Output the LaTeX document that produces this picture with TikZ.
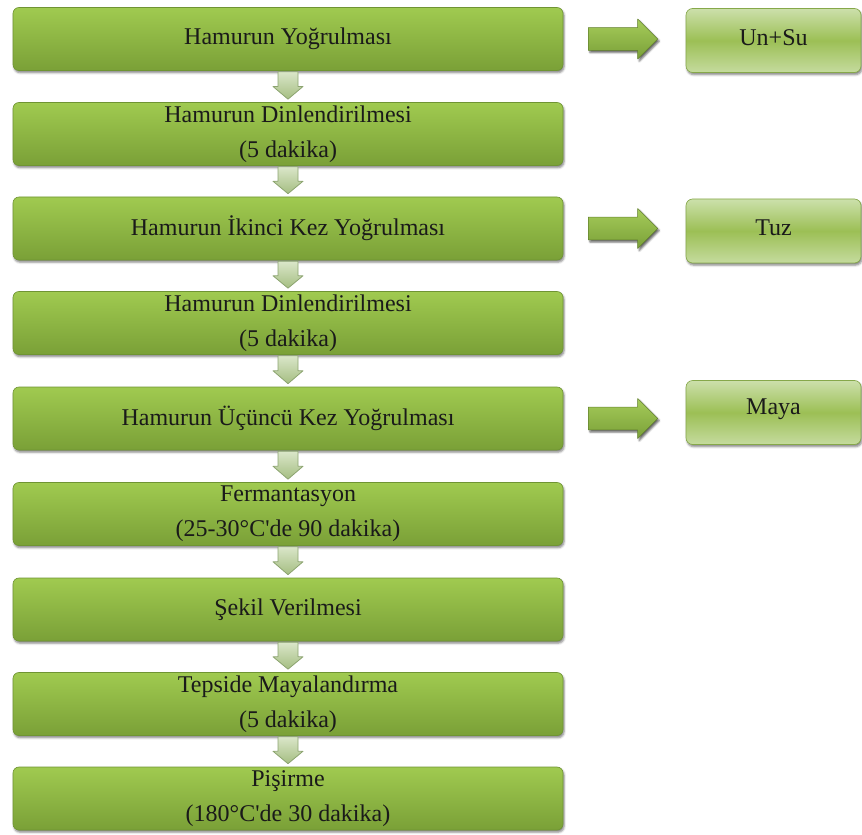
\documentclass[tikz,border=0pt]{standalone}
\usepackage{fontspec}
\setmainfont{Liberation Serif}[Ligatures=TeXOff]
\usetikzlibrary{shadows.blur,calc}
\definecolor{gTop}{HTML}{A0CA50}
\definecolor{gBot}{HTML}{7AA037}
\definecolor{gEdge}{HTML}{6F9433}
\definecolor{sTop}{HTML}{CCE0AB}
\definecolor{sMid}{HTML}{9CBF55}
\definecolor{sEdge}{HTML}{86A84A}
\definecolor{dTop}{HTML}{DAE6C9}
\definecolor{dBot}{HTML}{A5BE82}
\definecolor{dEdge}{HTML}{8CA470}
\definecolor{rTop}{HTML}{A6CC5A}
\definecolor{rBot}{HTML}{7AA038}
\definecolor{txt}{HTML}{1A1A1A}
\colorlet{rEdge}{rBot!80!black}
\tikzset{
  mainbox/.style={rounded corners=4.5pt, minimum width=412.5pt, minimum height=47.25pt,
    top color=gTop, bottom color=gBot, draw=gEdge, line width=0.5pt,
    blur shadow={shadow xshift=0.8pt, shadow yshift=-1.6pt, shadow blur radius=1.6pt, shadow opacity=50},
    font=\fontsize{18}{26}\selectfont, text=txt, align=center, inner sep=0pt},
  sidebox/.style={rounded corners=5pt, minimum width=131.25pt, minimum height=48pt,
    top color=sTop, bottom color=sTop!85!sMid, middle color=sMid, draw=sEdge, line width=0.5pt,
    blur shadow={shadow xshift=0.8pt, shadow yshift=-1.6pt, shadow blur radius=1.6pt, shadow opacity=50},
    font=\fontsize{18}{26}\selectfont, text=txt, align=center, inner sep=0pt},
  sidetext/.style={font=\fontsize{18}{26}\selectfont, text=txt, inner sep=0pt},
  dnarr/.style={draw=dEdge, line width=0.6pt, top color=dTop, bottom color=dBot, line join=round},
  rtarr/.style={draw=rEdge, line width=0.4pt, top color=rTop, bottom color=rBot, line join=round,
    blur shadow={shadow xshift=1.2pt, shadow yshift=-1.6pt, shadow blur radius=1.4pt, shadow opacity=60}},
}
\newcommand\dnarrow[2]{%
  \path[dnarr] let \p1=(#1.south), \p2=(#2.north) in
    (\x1-7.5pt,\y1-0.75pt) -- (\x1+7.5pt,\y1-0.75pt) -- (\x1+7.5pt,{(\y1+\y2)/2})
    -- (\x1+11.25pt,{(\y1+\y2)/2}) -- (\x1,\y2+2.25pt) -- (\x1-11.25pt,{(\y1+\y2)/2})
    -- (\x1-7.5pt,{(\y1+\y2)/2}) -- cycle;}
\newcommand\rtarrow[2]{%
  \path[rtarr] let \p1=(#1.east), \p2=(#2.west) in
    (\x1+18.75pt,\y1+8.6pt) -- (\x2-36pt,\y1+8.6pt) -- (\x2-36pt,\y1+15pt)
    -- (\x2-21pt,\y1) -- (\x2-36pt,\y1-15pt) -- (\x2-36pt,\y1-8.6pt)
    -- (\x1+18.75pt,\y1-8.6pt) -- cycle;}
\begin{document}
\begin{tikzpicture}[x=0.75pt,y=-0.75pt]
\useasboundingbox (0,0) rectangle (862,834);
\node[mainbox] (b1) at (288,39) {Hamurun Yoğrulması};
\node[mainbox] (b2) at (288,134) {Hamurun Dinlendirilmesi\\(5 dakika)};
\node[mainbox] (b3) at (288,228.5) {Hamurun İkinci Kez Yoğrulması};
\node[mainbox] (b4) at (288,323) {Hamurun Dinlendirilmesi\\(5 dakika)};
\node[mainbox] (b5) at (288,418.5) {Hamurun Üçüncü Kez Yoğrulması};
\node[mainbox] (b6) at (288,514) {Fermantasyon\\(25-30°C'de 90 dakika)};
\node[mainbox] (b7) at (288,609.5) {Şekil Verilmesi};
\node[mainbox] (b8) at (288,704) {Tepside Mayalandırma\\(5 dakika)};
\node[mainbox] (b9) at (288,798.5) {Pişirme\\(180°C'de 30 dakika)};
\node[sidebox] (r1) at (773.5,40.5) {};
\node[sidebox] (r2) at (773.5,231) {};
\node[sidebox] (r3) at (773.5,412.5) {};
\node[sidetext] (t1) at ($(r1.center)+(0,-3)$) {Un+Su};
\node[sidetext] (t2) at ($(r2.center)+(0,-3)$) {Tuz};
\node[sidetext] (t3) at ($(r3.center)+(0,-3)$) {Maya};
\dnarrow{b1}{b2}
\dnarrow{b2}{b3}
\dnarrow{b3}{b4}
\dnarrow{b4}{b5}
\dnarrow{b5}{b6}
\dnarrow{b6}{b7}
\dnarrow{b7}{b8}
\dnarrow{b8}{b9}
\rtarrow{b1}{r1}
\rtarrow{b3}{r2}
\rtarrow{b5}{r3}
\end{tikzpicture}
\end{document}
